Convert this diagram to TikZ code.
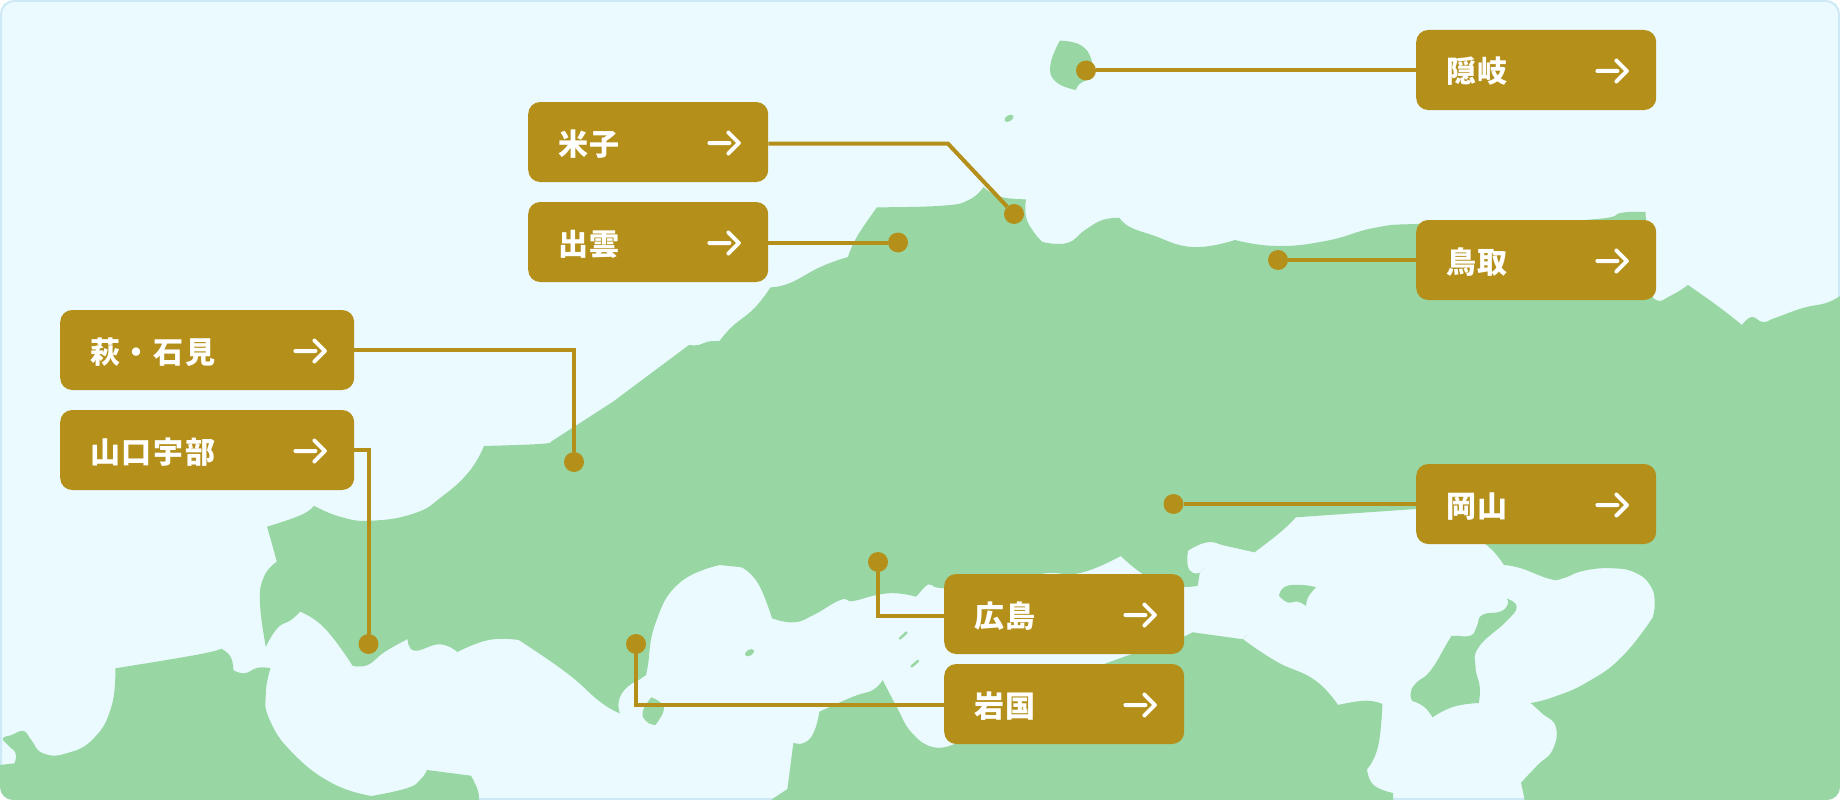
\documentclass[tikz,border=0pt]{standalone}
\usepackage{fontspec}
\newfontfamily\jpfont[LetterSpace=6]{Noto Sans CJK JP}
\definecolor{sea}{HTML}{EBFAFF}
\definecolor{seaedge}{HTML}{CCE9F5}
\definecolor{land}{HTML}{98D7A3}
\definecolor{gold}{HTML}{B4901A}
\tikzset{
  coast/.style={smooth,tension=.8},
  areabox/.style={fill=gold,rounded corners=12pt,text=white,font=\jpfont\bfseries\fontsize{30}{32}\selectfont,
    anchor=west,minimum height=80pt,inner xsep=30pt,text width=180pt,align=left,text height=28pt,text depth=2pt},
  widebox/.style={areabox,text width=234pt},
  spot/.style={circle,fill=gold,inner sep=0pt,minimum size=20pt},
  wire/.style={draw=gold,line width=4pt},
  pointer/.style={draw=white,line width=4pt,line cap=round,line join=round}
}
\begin{document}
\begin{tikzpicture}[x=1pt,y=-1pt]
      \useasboundingbox (0,0) rectangle (1840,800);
      \draw[fill=sea,draw=seaedge,line width=2pt,rounded corners=13pt] (1,1) rectangle (1839,799);
      \begin{scope}
        \clip[rounded corners=13pt] (0,0) rectangle (1840,800);
        \fill[land] (1840,800) -- (1840,296)
          -- plot[coast] coordinates {(1840,296) (1826,303) (1803,308) (1775,318) (1763,322) (1751.5,317) (1742,325)}
          -- plot[coast] coordinates {(1742,325) (1719,307) (1688,285)}
          -- plot[coast] coordinates {(1688,285) (1672,295) (1656,300) (1650,280) (1645.5,212)}
          -- plot[coast] coordinates {(1645.5,212) (1622,212.7) (1597,219) (1500,224) (1416,224) (1373.6,228) (1327,240.7) (1277,246) (1235,240)}
          -- plot[coast] coordinates {(1235,240) (1192.6,247) (1152,235) (1129.5,226.7) (1119.6,218)}
          -- plot[coast] coordinates {(1119.6,218) (1102.7,220) (1085,230) (1067,243) (1042.4,242)}
          -- plot[coast] coordinates {(1042.4,242) (1033.5,231.7) (1026,216.7) (1026,199.3)}
          -- plot[coast] coordinates {(1026,199.3) (1000,196.7) (983.5,187)}
          -- plot[coast] coordinates {(983.5,187) (968.7,200) (942,205.7) (877,207.3)}
          -- plot[coast] coordinates {(877,207.3) (857,236.7) (848,257)}
          -- plot[coast] coordinates {(848,257) (821,266.7) (790,283) (770.5,287.3)}
          -- plot[coast] coordinates {(770.5,287.3) (754.5,308) (732,326.7) (719.6,341)}
          -- plot[coast] coordinates {(719.6,341) (707.6,341.7) (698.7,345) (689,345)}
          -- (613,401.7) -- (551,441.7)
          -- plot[coast] coordinates {(551,441.7) (539.5,444) (484,446)}
          -- plot[coast] coordinates {(484,446) (469,471.7) (441.8,496.7) (414.4,513.3) (371.4,520.7) (340,516.7) (314,505.7)}
          -- plot[coast] coordinates {(314,505.7) (301,515) (267,526.7)}
          -- plot[coast] coordinates {(267,526.7) (272,544) (276.8,561.7)}
          -- plot[coast] coordinates {(276.8,561.7) (264,576.7) (260,603) (265.8,646.7)}
          -- plot[coast] coordinates {(265.8,646.7) (277.6,628) (291,620) (300,611.7)}
          -- plot[coast] coordinates {(300,611.7) (324.5,628) (352.6,665.7)}
          -- plot[coast] coordinates {(352.6,665.7) (367.5,665) (385,651.7) (407.7,639)}
          -- plot[coast] coordinates {(407.7,639) (414.4,650.7) (439.8,644.3) (457.4,652)}
          -- plot[coast] coordinates {(457.4,652) (488.7,640) (518.8,640)}
          -- plot[coast] coordinates {(518.8,640) (566.8,673) (600,701.7) (619.8,713.3)}
          -- plot[coast] coordinates {(619.8,713.3) (619,700) (627.7,686.7) (643.5,676.7) (647.4,668.3) (655.4,623.3) (679,583.3) (719.8,565)}
          -- (741.6,567.3)
          -- plot[coast] coordinates {(741.6,567.3) (758,583.3) (772,618.3)}
          -- plot[coast] coordinates {(772,618.3) (793.8,622.3) (813.5,615) (840.4,600) (853,601) (876.8,595) (896.6,593.3) (916.3,596.7)}
          -- plot[coast] coordinates {(916.3,596.7) (926,586) (931.4,585) (944,588.3) (1000,590) (1041,574) (1080,573) (1120.8,556)}
          -- plot[coast] coordinates {(1120.8,556) (1141.7,573.3) (1165,585) (1184,587) (1197.7,585.7)}
          -- (1199.8,572.7) -- (1204,568.3) -- (1199.8,572.7)
          -- plot[coast] coordinates {(1199.8,572.7) (1192.6,572.7) (1187.6,565) (1188,550.7)}
          -- plot[coast] coordinates {(1188,550.7) (1207.4,542.3) (1226.3,546) (1254.5,552.3)}
          -- plot[coast] coordinates {(1254.5,552.3) (1281,531.7) (1295.7,517.3)}
          -- (1416,509) -- (1450,510) -- (1485,543.7)
          -- plot[coast] coordinates {(1485,543.7) (1495,553) (1504,565)}
          -- plot[coast] coordinates {(1504,565) (1521,568.3) (1550,579) (1563,578.3) (1584,570.7) (1613.5,568.3) (1636.6,573.3) (1651,586.7) (1654.7,603.3) (1652.6,617.7)}
          -- plot[coast] coordinates {(1652.6,617.7) (1622,656.7) (1588,681.7) (1554.6,696.7) (1530.6,703)}
          -- plot[coast] coordinates {(1530.6,703) (1542,713.3) (1555.8,726.7) (1552.5,750) (1537.7,765) (1521,782.7)}
          -- plot[coast] coordinates {(1521,782.7) (1524,796.7) (1524,800)}
          -- cycle;
        \fill[land] (1393,800) -- (1393,793)
          -- plot[coast] coordinates {(1393,793) (1373.6,785) (1367,769.3)}
          -- plot[coast] coordinates {(1367,769.3) (1378,746.7) (1382.4,704)}
          -- plot[coast] coordinates {(1382.4,704) (1365,700.7) (1338,705)}
          -- plot[coast] coordinates {(1338,705) (1314.7,680) (1276.8,661.7) (1243,639.3)}
          -- (1247,635) -- (1243,639.3) -- (1192.6,632.3) -- (1184,636.7)
          -- (1132,654) -- (1106,663.3) -- (1000,720) -- (956,743.3)
          -- plot[coast] coordinates {(956,743.3) (934,747.3) (912,733) (896.6,706.7) (882.7,680)}
          -- plot[coast] coordinates {(882.7,680) (872.8,690) (853,696.7) (819.5,711.7)}
          -- plot[coast] coordinates {(819.5,711.7) (813.5,733) (803.6,743) (793.4,742.7)}
          -- (787.4,789) -- (772,799.3) -- (772,800) -- cycle;
        \fill[land] (0,800) -- (0,765) -- (14.5,763.3)
          -- plot[coast] coordinates {(14.5,763.3) (15.6,753.3) (7.8,745) (3,738.3) (11.7,735) (23.5,731) (31.3,740) (43,753.3) (66.5,753.3) (93.8,738.3) (111.4,706.7) (115.3,668.3)}
          -- plot[coast] coordinates {(115.3,668.3) (195.5,655) (221.3,648.7)}
          -- plot[coast] coordinates {(221.3,648.7) (230.6,656.7) (233.4,670)}
          -- plot[coast] coordinates {(233.4,670) (244.3,673.3) (258,667.7) (270.5,668.3)}
          -- plot[coast] coordinates {(270.5,668.3) (265.8,693.3) (269.7,720) (293,753.3) (332.3,783.3) (371.4,796)}
          -- plot[coast] coordinates {(371.4,796) (406.6,788.3) (420,780) (427,770)}
          -- (471,775.7)
          -- plot[coast] coordinates {(471,775.7) (477.7,790) (479,800)}
          -- cycle;
      \end{scope}
      \fill[land] (1059.8,40.7)
        -- plot[coast] coordinates {(1059.8,40.7) (1080.4,45) (1091.5,60) (1091.5,78.3)}
        -- plot[coast] coordinates {(1091.5,78.3) (1080.4,83.3) (1075.9,90)}
        -- plot[coast] coordinates {(1075.9,90) (1055.8,81.7) (1050.4,65) (1059.8,40.7)} -- cycle;
      \fill[land] (651.4,697.3)
        -- plot[coast] coordinates {(651.4,697.3) (661.3,703.3) (663.3,711.7) (655.4,725)}
        -- plot[coast] coordinates {(655.4,725) (646.7,721.7) (642.7,711.7) (651.4,697.3)} -- cycle;
      \fill[land] (1279,595.7)
        -- plot[coast] coordinates {(1279,595.7) (1285,586.7) (1302,585) (1316,587.3)}
        -- plot[coast] coordinates {(1316,587.3) (1308.4,596.7) (1306,606)}
        -- plot[coast] coordinates {(1306,606) (1297.8,601.7) (1287.3,602.3) (1279,595.7)} -- cycle;
      \fill[land] (1507,598.7)
        -- plot[coast] coordinates {(1507,598.7) (1516.7,606.7) (1506,621.7) (1479,646.7) (1475.5,666.7) (1479.7,686.7) (1478.8,703)}
        -- plot[coast] coordinates {(1478.8,703) (1453.6,706.7) (1432.5,717.3)}
        -- plot[coast] coordinates {(1432.5,717.3) (1424,706.7) (1412.3,701)}
        -- plot[coast] coordinates {(1412.3,701) (1410.6,693.3) (1415.7,683.3) (1431,670) (1449,640) (1453.6,636) (1470.4,635.7) (1476.7,626.7) (1482,615) (1500,611.7) (1507.5,605) (1507,598.7)} -- cycle;
      \fill[land,rotate around={30:(1009,118.3)}] (1009,118.3) ellipse (5pt and 3pt);
      \fill[land,rotate around={30:(749.5,652.7)}] (749.5,652.7) ellipse (5pt and 3pt);
      \begin{scope}[draw=land,line width=2.5pt,line cap=round]
        \draw (900,638.5) -- (906.5,632.5);
        \draw (911.5,666.5) -- (918,661);
      \end{scope}
      \draw
        (1416,70) node[areabox] (oki){隠岐}
        (528,142) node[areabox] (yonago){米子}
        (528,242) node[areabox] (izumo){出雲}
        (1416,260) node[areabox] (tottori){鳥取}
        (60,350) node[widebox] (hagi){萩・石見}
        (60,450) node[widebox] (ube){山口宇部}
        (1416,504) node[areabox] (okayama){岡山}
        (944,614) node[areabox] (hiroshima){広島}
        (944,704) node[areabox] (iwakuni){岩国};
      \draw
        (1086,70.5) node[spot] (okispot){}
        (1014,214) node[spot] (yonagospot){}
        (898,242.5) node[spot] (izumospot){}
        (1278,260) node[spot] (tottorispot){}
        (574,462) node[spot] (hagispot){}
        (368.5,644) node[spot] (ubespot){}
        (1173.5,504) node[spot] (okayamaspot){}
        (878,562) node[spot] (hiroshimaspot){}
        (636,644) node[spot] (iwakunispot){}
        (948,143.7) coordinate (yonagobend);
      \begin{scope}[wire]
        \draw (okispot) -- (okispot -| oki.west);
        \draw (yonago.east |- yonagobend) -- (yonagobend) -- (yonagospot);
        \draw (izumospot) -- (izumospot -| izumo.east);
        \draw (tottorispot) -- (tottorispot -| tottori.west);
        \draw (hagi.east) -| (hagispot);
        \draw (ube.east) -| (ubespot);
        \draw (okayamaspot) -- (okayamaspot -| okayama.west);
        \draw (hiroshimaspot) |- ([yshift=-1.7pt]hiroshima.west);
        \draw (iwakunispot) |- ([yshift=-.7pt]iwakuni.west);
      \end{scope}
      \foreach \area in {oki,yonago,izumo,tottori,hagi,ube,okayama,hiroshima,iwakuni}
        \draw[pointer] ([shift={(-59pt,-1pt)}]\area.east) -- ([shift={(-39pt,-1pt)}]\area.east)
          ([shift={(-40pt,9.5pt)}]\area.east) -- ([shift={(-29.5pt,-1pt)}]\area.east) -- ([shift={(-40pt,-11.5pt)}]\area.east);
    \end{tikzpicture}
\end{document}
